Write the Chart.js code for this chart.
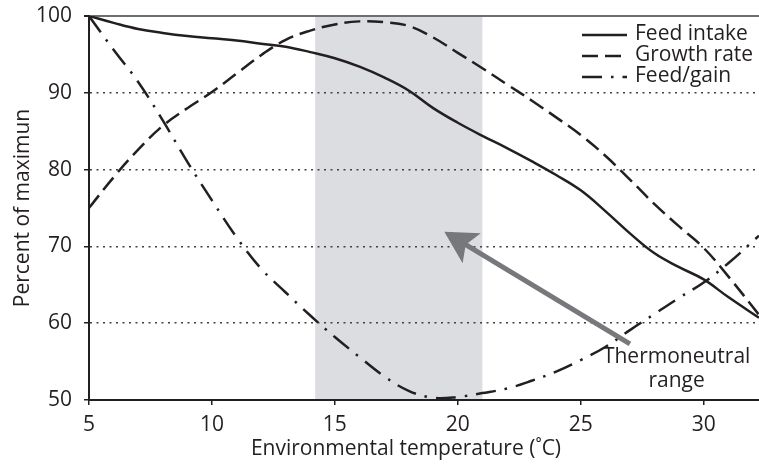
<!DOCTYPE html>
<html>
<head>
<meta charset="utf-8">
<script src="https://cdn.jsdelivr.net/npm/chart.js@4/dist/chart.umd.min.js"></script>
<style>
  html, body { margin: 0; padding: 0; background: #fff; }
</style>
</head>
<body>
<canvas id="tempChart" width="759" height="467"></canvas>
<script>
// values
const temps       = [5, 6, 7, 8, 9, 10, 11, 12, 13, 14, 15, 16, 17, 18, 19, 20, 21, 22, 23, 24, 25, 26, 27, 28, 29, 30, 31, 32.25];
const feedIntake  = [100, 99.1, 98.3, 97.8, 97.4, 97.1, 96.8, 96.4, 96.0, 95.3, 94.5, 93.4, 92.0, 90.3, 88.0, 86.1, 84.4, 82.8, 81.1, 79.3, 77.3, 74.6, 71.7, 69.1, 67.3, 65.7, 63.4, 60.7];
const growthRate  = [75, 79.0, 82.6, 85.7, 88.0, 90.1, 92.5, 94.9, 96.9, 98.1, 98.9, 99.3, 99.2, 98.7, 97.2, 95.2, 93.2, 91.1, 89.0, 86.8, 84.5, 81.8, 78.7, 75.5, 72.6, 69.8, 66.1, 61.1];
const feedGain    = [100, 95.6, 91.4, 86.4, 81.0, 76.0, 71.2, 67.1, 64.0, 61.0, 58.2, 55.6, 53.1, 51.2, 50.3, 50.4, 50.9, 51.5, 52.5, 53.7, 55.2, 56.9, 59.1, 61.2, 63.3, 65.3, 67.8, 71.4];

const xTicks = [5, 10, 15, 20, 25, 30];
const yTicks = [50, 60, 70, 80, 90, 100];

const neutralRange = [14.2, 21];            // shaded thermoneutral zone
const arrowFrom = { x: 27, y: 57.3 };
const arrowTo   = { x: 19.45, y: 71.9 };
const rangeLabel = ['Thermoneutral', 'range'];
const rangeLabelAt = { x: 28.9, y: 55.6 };
const xTitle = 'Environmental temperature (˚C)';

const INK = '#231f20';
const FONT = '"Open Sans", "DejaVu Sans", sans-serif';

const toXY = arr => temps.map((t, i) => ({ x: t, y: arr[i] }));

const thermoPlugin = {
  id: 'thermo',
  beforeDraw(chart) {
    const { ctx, chartArea, scales: { x } } = chart;
    const x0 = x.getPixelForValue(neutralRange[0]);
    const x1 = x.getPixelForValue(neutralRange[1]);
    ctx.save();
    ctx.fillStyle = '#dcdde0';
    ctx.fillRect(x0, chartArea.top, x1 - x0, chartArea.bottom - chartArea.top);
    ctx.restore();
  },
  afterDatasetsDraw(chart) {
    const { ctx, chartArea, scales: { x, y } } = chart;

    // arrow
    const tx = x.getPixelForValue(arrowTo.x), ty = y.getPixelForValue(arrowTo.y);
    const fx = x.getPixelForValue(arrowFrom.x), fy = y.getPixelForValue(arrowFrom.y);
    const len = Math.hypot(fx - tx, fy - ty);
    const ux = (fx - tx) / len, uy = (fy - ty) / len;
    const nx = -uy, ny = ux;
    const L = 32, W = 17.5;
    ctx.save();
    ctx.strokeStyle = '#77787b';
    ctx.fillStyle = '#77787b';
    ctx.lineWidth = 5;
    ctx.beginPath();
    ctx.moveTo(fx, fy);
    ctx.lineTo(tx + ux * (L - 8), ty + uy * (L - 8));
    ctx.stroke();
    ctx.beginPath();
    ctx.moveTo(tx, ty);
    ctx.lineTo(tx + ux * L + nx * W, ty + uy * L + ny * W);
    ctx.lineTo(tx + ux * (L - 7), ty + uy * (L - 7));
    ctx.lineTo(tx + ux * L - nx * W, ty + uy * L - ny * W);
    ctx.closePath();
    ctx.fill();

    // label
    ctx.fillStyle = INK;
    ctx.font = '21px ' + FONT;
    ctx.textAlign = 'center';
    ctx.textBaseline = 'middle';
    const lx = x.getPixelForValue(rangeLabelAt.x);
    const ly = y.getPixelForValue(rangeLabelAt.y);
    rangeLabel.forEach((s, i) => ctx.fillText(s, lx, ly + i * 24));

    // x axis title (sits a little left of the plot centre in the original)
    ctx.fillText(xTitle, chartArea.left + 317, chartArea.bottom + 49);

    // legend
    const sx0 = chartArea.right - 177, sx1 = chartArea.right - 132;
    ctx.textAlign = 'left';
    chart.data.datasets.forEach((ds, i) => {
      const ry = chartArea.top + 19 + i * 21;
      ctx.strokeStyle = ds.borderColor;
      ctx.lineWidth = ds.borderWidth;
      ctx.setLineDash(ds.borderDash || []);
      ctx.beginPath();
      ctx.moveTo(sx0, ry);
      ctx.lineTo(sx1, ry);
      ctx.stroke();
      ctx.setLineDash([]);
      ctx.fillText(ds.label, chartArea.right - 124, ry - 1);
    });
    ctx.restore();
  }
};

const lineStyle = {
  borderColor: INK,
  borderWidth: 2.5,
  pointRadius: 0,
  tension: 0.4,
  fill: false
};

new Chart(document.getElementById('tempChart'), {
  type: 'line',
  data: {
    datasets: [
      { label: 'Feed intake', data: toXY(feedIntake), ...lineStyle },
      { label: 'Growth rate', data: toXY(growthRate), ...lineStyle, borderDash: [16, 7] },
      { label: 'Feed/gain', data: toXY(feedGain), ...lineStyle, borderDash: [20, 9, 2.5, 9] }
    ]
  },
  options: {
    responsive: false,
    animation: false,
    layout: { padding: { top: 16, right: 0, left: 0, bottom: 0 } },
    plugins: { legend: { display: false }, tooltip: { enabled: false } },
    scales: {
      x: {
        type: 'linear',
        min: 5,
        max: 32.25,
        afterBuildTicks: s => { s.ticks = xTicks.map(v => ({ value: v })); },
        afterFit: s => { s.height = 67; s.paddingLeft = 0; s.paddingRight = 0; },
        ticks: { color: INK, font: { family: FONT, size: 21 }, padding: 7, maxRotation: 0 },
        grid: { drawOnChartArea: false, drawTicks: true, tickLength: 5, tickColor: INK, lineWidth: 1.5 },
        border: { color: INK, width: 2 }
      },
      y: {
        min: 50,
        max: 100,
        afterBuildTicks: s => { s.ticks = yTicks.map(v => ({ value: v })); },
        afterFit: s => { s.width = 89; s.paddingTop = 0; s.paddingBottom = 0; },
        ticks: { color: INK, font: { family: FONT, size: 21 }, padding: 12 },
        grid: {
          drawTicks: true,
          tickLength: 5,
          tickColor: INK,
          tickBorderDash: [],
          color: c => c.tick && c.tick.value === 100 ? '#6d6e71' : (c.tick && c.tick.value === 50 ? 'rgba(0,0,0,0)' : '#414042'),
          lineWidth: c => c.tick && c.tick.value === 100 ? 2 : 1.5
        },
        border: {
          color: INK,
          width: 2,
          dash: c => c.tick && c.tick.value === 100 ? [] : [2, 4.5]
        },
        title: {
          display: true,
          text: 'Percent of maximun',
          color: INK,
          font: { family: FONT, size: 21 },
          padding: { top: 10, bottom: 0 }
        }
      }
    }
  },
  plugins: [thermoPlugin]
});
</script>
</body>
</html>
